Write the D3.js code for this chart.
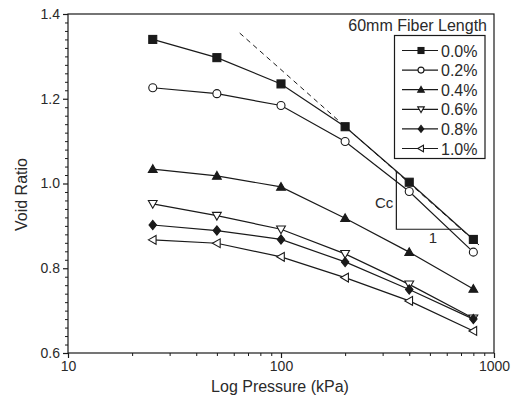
<!DOCTYPE html>
<html><head><meta charset="utf-8">
<script src="https://cdn.jsdelivr.net/npm/d3@7"></script>
<style>
html,body{margin:0;padding:0;background:#fff;}
svg{display:block;font-family:"Liberation Sans",Arial,sans-serif;}
</style></head>
<body><svg id="c" width="514" height="405"></svg>
<script>
const pressures = [25, 50, 100, 200, 400, 800];
const seriesNames = ["0.0%", "0.2%", "0.4%", "0.6%", "0.8%", "1.0%"];
const markers = ["squareFilled", "circleOpen", "triUpFilled", "triDownOpen", "diamondFilled", "triLeftOpen"];
const v00 = [1.340, 1.297, 1.235, 1.134, 1.003, 0.868];
const v02 = [1.226, 1.212, 1.184, 1.099, 0.981, 0.838];
const v04 = [1.034, 1.018, 0.992, 0.918, 0.838, 0.751];
const v06 = [0.952, 0.924, 0.892, 0.834, 0.762, 0.682];
const v08 = [0.902, 0.889, 0.868, 0.815, 0.750, 0.680];
const v10 = [0.867, 0.859, 0.827, 0.778, 0.723, 0.652];
const seriesValues = [v00, v02, v04, v06, v08, v10];
const xTicks = [10, 100, 1000];
const yTicks = [0.6, 0.8, 1.0, 1.2, 1.4];
const ccLine = [[64, 1.355], [850, 0.855]];
const ccCornerP = 348;
const ccCornerV = 0.892;
const legendTitle = "60mm Fiber Length";
const xTitle = "Log Pressure (kPa)";
const yTitle = "Void Ratio";

const svg = d3.select("#c");
const L = 68, R = 494, T = 14, B = 353;
const x = d3.scaleLog().domain([10, 1000]).range([L, R]);
const y = d3.scaleLinear().domain([0.6, 1.4]).range([B, T]);
const ink = "#1a1a1a", txt = "#2a2a2a";

// frame
svg.append("rect").attr("x", L).attr("y", T).attr("width", R - L).attr("height", B - T)
  .attr("fill", "none").attr("stroke", ink).attr("stroke-width", 1.2);

// x axis
const xMinor = [];
for (let d = 10; d < 1000; d *= 10) for (let k = 2; k <= 9; k++) xMinor.push(d * k);
const xAx = svg.append("g").attr("transform", `translate(0,${B})`)
  .call(d3.axisBottom(x).tickValues(xTicks).tickFormat(d3.format("d")).tickSize(5).tickPadding(3));
xAx.select(".domain").remove();
xAx.selectAll("line").attr("stroke", ink).attr("stroke-width", 1.2);
xAx.selectAll("text").attr("font-size", 14).attr("fill", txt).attr("font-family", "Liberation Sans, Arial, sans-serif");
const xMi = svg.append("g").attr("transform", `translate(0,${B})`)
  .call(d3.axisBottom(x).tickValues(xMinor).tickFormat("").tickSize(3));
xMi.select(".domain").remove();
xMi.selectAll("line").attr("stroke", ink).attr("stroke-width", 1);

// y axis
const yMinor = d3.range(0.62, 1.4, 0.02).filter(v => Math.abs(v * 5 - Math.round(v * 5)) > 1e-6);
const yAx = svg.append("g").attr("transform", `translate(${L},0)`)
  .call(d3.axisLeft(y).tickValues(yTicks).tickFormat(d3.format(".1f")).tickSize(5).tickPadding(3));
yAx.select(".domain").remove();
yAx.selectAll("line").attr("stroke", ink).attr("stroke-width", 1.2);
yAx.selectAll("text").attr("font-size", 14).attr("fill", txt).attr("font-family", "Liberation Sans, Arial, sans-serif");
const yMi = svg.append("g").attr("transform", `translate(${L},0)`)
  .call(d3.axisLeft(y).tickValues(yMinor).tickFormat("").tickSize(3));
yMi.select(".domain").remove();
yMi.selectAll("line").attr("stroke", ink).attr("stroke-width", 1);

// axis titles
svg.append("text").attr("x", 280).attr("y", 392).attr("text-anchor", "middle")
  .attr("font-size", 16).attr("fill", txt).text(xTitle);
svg.append("text").attr("transform", `translate(27,${(T + B) / 2 + 11}) rotate(-90)`)
  .attr("text-anchor", "middle").attr("font-size", 16).attr("fill", txt).text(yTitle);

// Cc dashed line and triangle
const line = d3.line().x(d => x(d[0])).y(d => y(d[1]));
svg.append("path").attr("d", line(ccLine)).attr("fill", "none").attr("stroke", ink)
  .attr("stroke-width", 1).attr("stroke-dasharray", "5,4");
const lp0 = Math.log10(ccLine[0][0]), lp1 = Math.log10(ccLine[1][0]);
const slope = (ccLine[1][1] - ccLine[0][1]) / (lp1 - lp0);
const vTop = ccLine[0][1] + slope * (Math.log10(ccCornerP) - lp0);
const pRight = Math.pow(10, lp0 + (ccCornerV - ccLine[0][1]) / slope);
svg.append("path").attr("d", line([[ccCornerP, vTop], [ccCornerP, ccCornerV], [pRight, ccCornerV]]))
  .attr("fill", "none").attr("stroke", ink).attr("stroke-width", 1.2);
svg.append("text").attr("x", x(ccCornerP) - 3).attr("y", y((vTop + ccCornerV) / 2) + 7)
  .attr("text-anchor", "end").attr("font-size", 15).attr("fill", txt).text("Cc");
svg.append("text").attr("x", (x(ccCornerP) + x(pRight)) / 2 + 4).attr("y", y(ccCornerV) + 14)
  .attr("text-anchor", "middle").attr("font-size", 15).attr("fill", txt).text("1");

// markers
function drawMarker(g, type, cx, cy, s) {
  const filled = type.endsWith("Filled");
  const fill = filled ? ink : "#fff";
  let el;
  if (type === "squareFilled") {
    el = g.append("rect").attr("x", cx - s / 2).attr("y", cy - s / 2).attr("width", s).attr("height", s);
  } else if (type === "circleOpen") {
    el = g.append("circle").attr("cx", cx).attr("cy", cy).attr("r", s / 2);
  } else {
    const h = s * 0.55;
    let pts;
    if (type === "triUpFilled") pts = [[cx, cy - h], [cx - h, cy + h * 0.75], [cx + h, cy + h * 0.75]];
    else if (type === "triDownOpen") pts = [[cx, cy + h], [cx - h, cy - h * 0.75], [cx + h, cy - h * 0.75]];
    else if (type === "triLeftOpen") pts = [[cx - h, cy], [cx + h * 0.75, cy - h], [cx + h * 0.75, cy + h]];
    else pts = [[cx, cy - h * 1.05], [cx + h * 0.85, cy], [cx, cy + h * 1.05], [cx - h * 0.85, cy]];
    el = g.append("polygon").attr("points", pts.map(p => p.join(",")).join(" "));
  }
  el.attr("fill", fill).attr("stroke", ink).attr("stroke-width", 1.1);
}

const plot = svg.append("g");
seriesValues.forEach((vals, i) => {
  const pts = pressures.map((p, j) => [p, vals[j]]);
  plot.append("path").attr("d", line(pts)).attr("fill", "none").attr("stroke", ink).attr("stroke-width", 1.2);
});
seriesValues.forEach((vals, i) => {
  pressures.forEach((p, j) => drawMarker(plot, markers[i], x(p), y(vals[j]), 8));
});

// legend
svg.append("text").attr("x", 487).attr("y", 31).attr("text-anchor", "end")
  .attr("font-size", 16).attr("fill", txt).text(legendTitle);
const lg = svg.append("g");
lg.append("rect").attr("x", 394.5).attr("y", 35.5).attr("width", 90.5).attr("height", 123)
  .attr("fill", "#fff").attr("stroke", ink).attr("stroke-width", 1.2);
seriesNames.forEach((name, i) => {
  const yy = 50.5 + i * 19.6;
  lg.append("line").attr("x1", 402).attr("x2", 438).attr("y1", yy).attr("y2", yy)
    .attr("stroke", ink).attr("stroke-width", 1.2);
  drawMarker(lg, markers[i], 421, yy, 6);
  lg.append("text").attr("x", 441).attr("y", yy + 6).attr("font-size", 16).attr("fill", txt).text(name);
});
</script></body></html>
